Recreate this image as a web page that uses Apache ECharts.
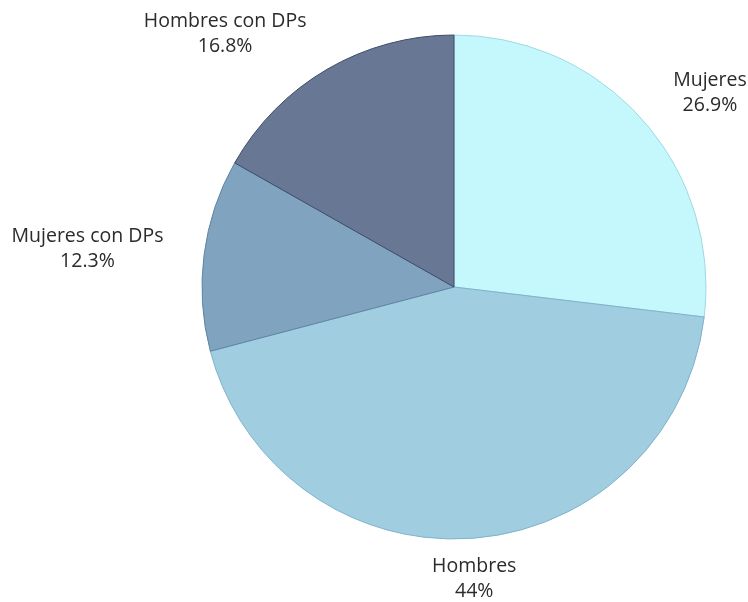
<!DOCTYPE html>
<html>
<head>
<meta charset="utf-8">
<script src="https://cdn.jsdelivr.net/npm/echarts@6/dist/echarts.min.js"></script>
<style>
  html, body { margin: 0; padding: 0; background: #fff; }
  #chart { width: 748px; height: 602px; }
</style>
</head>
<body>
<div id="chart"></div>
<script>
// datos del gráfico (porcentajes)
const categories = ['Mujeres', 'Hombres', 'Mujeres con DPs', 'Hombres con DPs']
const values = [26.9, 44, 12.3, 16.8]
const colors = ['#c4f8fc', '#a0cde0', '#80a3bf', '#687894']
const borderColors = ['#9ed9e2', '#7fb2cb', '#5f83a3', '#3e4c68']

const center = [454, 287]
const radius = 252
const labelDist = 293

const total = values.reduce((a, b) => a + b, 0)

// ángulo medio de cada porción (desde arriba, sentido horario)
const midAngles = []
let acc = 0
values.forEach(v => {
  midAngles.push((acc + v / 2) / total * Math.PI * 2)
  acc += v
})

const chart = echarts.init(document.getElementById('chart'))
chart.setOption({
  animation: false,
  series: [
    {
      type: 'pie',
      center: center,
      radius: radius,
      startAngle: 90,
      clockwise: true,
      avoidLabelOverlap: false,
      data: categories.map((name, i) => ({
        name: name,
        value: values[i],
        itemStyle: { color: colors[i], borderColor: borderColors[i], borderWidth: 1 }
      })),
      label: {
        show: true,
        position: 'outside',
        formatter: p => p.name + '\n' + values[p.dataIndex] + '%',
        fontFamily: 'Open Sans',
        fontSize: 19.5,
        lineHeight: 25,
        color: '#2b2b2b'
      },
      labelLine: { show: false },
      // etiquetas centradas, colocadas fuera del borde
      labelLayout: params => {
        const a = midAngles[params.dataIndex]
        const dx = Math.sin(a)
        const dy = -Math.cos(a)
        const w = params.labelRect.width
        let x = center[0] + dx * labelDist
        if (dx > 0.2) x += w / 2
        else if (dx < -0.2) x -= w / 2
        return {
          x: x,
          y: center[1] + dy * labelDist,
          align: 'center',
          verticalAlign: 'middle'
        }
      }
    }
  ]
})
</script>
</body>
</html>
